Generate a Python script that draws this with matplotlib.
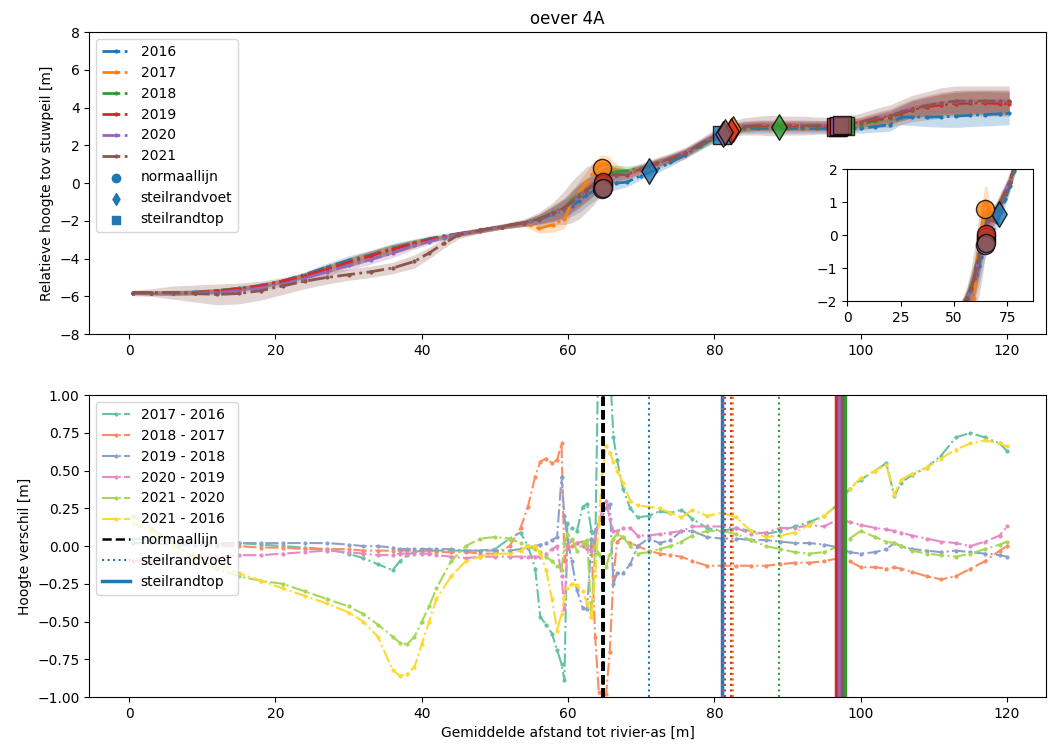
import matplotlib.pyplot as plt
import numpy as np

jaren = ['2016', '2017', '2018', '2019', '2020', '2021']
kleuren = ['C0', 'C1', 'C2', 'C3', 'C4', 'C5']

# dwarsprofielen per jaar
afstand = [0.5, 3, 6, 9, 12, 15, 18, 21, 24, 27,
           30, 33, 36, 39, 41, 43, 45, 48, 51, 54,
           56, 58, 59.5, 60.5, 61.5, 62.5, 63.5, 64.5, 65.5, 66.5,
           68, 70, 72, 74, 76, 78, 80, 82, 84, 86,
           88, 90, 92, 94, 96, 98, 100, 102, 104, 105.5,
           107, 109, 111, 113, 115, 117, 119, 120.3]

hoogte_2016 = [-5.82, -5.82, -5.80, -5.78, -5.70, -5.58, -5.42, -5.18, -4.85, -4.45,
               -4.10, -3.80, -3.45, -3.15, -2.95, -2.80, -2.68, -2.50, -2.30, -2.15,
               -1.95, -1.65, -1.40, -1.20, -0.95, -0.65, -0.40, -0.20, -0.05, 0.00,
               0.05, 0.40, 0.70, 1.10, 1.50, 1.95, 2.40, 2.75, 2.90, 2.90,
               2.90, 2.90, 2.90, 2.90, 2.90, 2.90, 2.90, 3.00, 3.10, 3.50,
               3.50, 3.50, 3.52, 3.55, 3.60, 3.63, 3.67, 3.70]
hoogte_2017 = [-5.82, -5.82, -5.82, -5.80, -5.72, -5.60, -5.45, -5.20, -4.90, -4.55,
               -4.20, -3.85, -3.50, -3.20, -3.00, -2.85, -2.70, -2.52, -2.32, -2.15,
               -2.40, -2.20, -1.90, -1.00, -0.50, 0.00, 0.60, 1.00, 1.00, 0.70,
               0.50, 0.75, 1.05, 1.30, 1.60, 2.05, 2.50, 2.85, 3.00, 3.05,
               3.05, 3.05, 3.05, 3.05, 3.05, 3.10, 3.25, 3.40, 3.55, 3.75,
               3.95, 4.10, 4.25, 4.30, 4.32, 4.32, 4.30, 4.28]
hoogte_2018 = [-5.82, -5.82, -5.82, -5.80, -5.72, -5.60, -5.45, -5.20, -4.90, -4.55,
               -4.20, -3.85, -3.50, -3.20, -3.00, -2.85, -2.70, -2.50, -2.30, -2.10,
               -1.90, -1.55, -1.30, -0.90, -0.60, -0.35, -0.10, 0.20, 0.50, 0.60,
               0.65, 0.80, 1.05, 1.30, 1.60, 2.00, 2.45, 2.80, 2.95, 3.00,
               3.00, 3.00, 3.00, 3.00, 3.00, 3.05, 3.10, 3.30, 3.45, 3.70,
               3.90, 4.05, 4.15, 4.22, 4.25, 4.28, 4.28, 4.28]
hoogte_2019 = [-5.82, -5.82, -5.82, -5.80, -5.72, -5.60, -5.45, -5.20, -4.90, -4.55,
               -4.20, -3.85, -3.50, -3.20, -3.00, -2.85, -2.70, -2.50, -2.30, -2.10,
               -1.90, -1.60, -1.30, -1.00, -0.70, -0.40, -0.10, 0.20, 0.40, 0.45,
               0.45, 0.75, 1.05, 1.30, 1.60, 2.05, 2.50, 2.85, 3.00, 3.05,
               3.05, 3.05, 3.05, 3.05, 3.05, 3.10, 3.20, 3.35, 3.50, 3.70,
               3.90, 4.05, 4.15, 4.22, 4.25, 4.25, 4.22, 4.20]
hoogte_2020 = [-5.85, -5.85, -5.85, -5.82, -5.80, -5.70, -5.55, -5.35, -5.05, -4.70,
               -4.35, -4.05, -3.70, -3.30, -3.10, -2.90, -2.72, -2.52, -2.32, -2.12,
               -1.92, -1.62, -1.35, -1.05, -0.70, -0.35, -0.05, 0.18, 0.40, 0.45,
               0.50, 0.78, 1.08, 1.35, 1.65, 2.10, 2.55, 2.90, 3.05, 3.10,
               3.10, 3.10, 3.10, 3.08, 3.05, 3.10, 3.25, 3.45, 3.60, 3.80,
               4.00, 4.15, 4.25, 4.32, 4.35, 4.35, 4.35, 4.35]
hoogte_2021 = [-5.82, -5.80, -5.80, -5.85, -5.90, -5.85, -5.70, -5.45, -5.20, -5.00,
               -4.85, -4.70, -4.50, -4.15, -3.70, -3.20, -2.75, -2.50, -2.30, -2.10,
               -1.90, -1.60, -1.30, -1.00, -0.70, -0.35, -0.05, 0.25, 0.45, 0.45,
               0.45, 0.75, 1.05, 1.30, 1.60, 2.05, 2.50, 2.85, 3.00, 3.05,
               3.05, 3.05, 3.05, 3.05, 3.05, 3.10, 3.25, 3.45, 3.55, 3.75,
               3.95, 4.10, 4.25, 4.35, 4.35, 4.35, 4.35, 4.35]

# spreiding (halve bandbreedte) rond het profiel
spreiding_2021 = [0.15, 0.20, 0.35, 0.45, 0.55, 0.55, 0.50, 0.45, 0.40, 0.35,
                  0.30, 0.30, 0.30, 0.35, 0.30, 0.25, 0.20, 0.15, 0.15, 0.20,
                  0.35, 0.60, 0.90, 1.10, 1.20, 1.20, 1.10, 0.90, 0.60, 0.40,
                  0.30, 0.30, 0.30, 0.30, 0.30, 0.30, 0.35, 0.40, 0.45, 0.50,
                  0.55, 0.50, 0.50, 0.45, 0.45, 0.45, 0.45, 0.50, 0.60, 0.65,
                  0.70, 0.75, 0.80, 0.80, 0.80, 0.80, 0.80, 0.80]
spreiding_overig = [0.08, 0.10, 0.12, 0.12, 0.12, 0.12, 0.12, 0.12, 0.15, 0.20,
                    0.25, 0.25, 0.25, 0.20, 0.15, 0.12, 0.12, 0.12, 0.12, 0.15,
                    0.25, 0.40, 0.50, 0.55, 0.60, 0.60, 0.55, 0.50, 0.45, 0.35,
                    0.25, 0.20, 0.20, 0.20, 0.20, 0.20, 0.20, 0.25, 0.25, 0.25,
                    0.25, 0.25, 0.25, 0.25, 0.25, 0.25, 0.25, 0.30, 0.35, 0.40,
                    0.45, 0.50, 0.55, 0.60, 0.60, 0.60, 0.60, 0.60]

# kenmerkende punten per jaar
normaal_x = [64.8, 64.6, 64.8, 64.8, 64.7, 64.8]
normaal_y = [-0.15, 0.80, -0.05, 0.05, -0.30, -0.25]
voet_x = [71.1, 82.6, 88.9, 82.3, 81.2, 81.5]
voet_y = [0.65, 2.85, 3.00, 2.75, 2.60, 2.70]
top_x = [81.0, 96.9, 97.8, 96.6, 97.1, 97.4]
top_y = [2.55, 3.00, 3.05, 2.95, 3.05, 3.10]

# hoogteverschillen tussen jaren
verschil_afstand = [0.5, 3, 6, 9, 12, 15, 18, 21, 24, 27,
                    30, 32, 34, 36, 37, 38, 39, 40, 41, 42,
                    44, 46, 48, 50, 52, 53.5, 54.5, 55.5, 56.2, 57,
                    57.8, 58.5, 59.1, 59.5, 59.9, 60.5, 61.2, 62, 62.6, 63.2,
                    63.7, 64.2, 64.7, 65.2, 65.7, 66.2, 66.7, 67.5, 68.5, 69.5,
                    71, 72.5, 74, 75.5, 77, 79, 81, 83, 85, 87,
                    89, 91, 93, 95, 97, 98.5, 100, 102, 103.5, 104.6,
                    105.5, 107, 109, 111, 113, 115, 117, 119, 120]

verschil_2017_2016 = [0.05, 0.04, 0.03, 0.03, 0.02, 0.02, 0.01, 0.00, -0.01, -0.02,
                      -0.05, -0.08, -0.12, -0.16, -0.10, -0.06, -0.04, -0.03, -0.03, -0.03,
                      -0.03, -0.03, -0.03, -0.02, 0.05, 0.09, 0.00, -0.15, -0.47, -0.52,
                      -0.58, -0.69, -0.78, -0.89, 0.15, 0.12, 0.10, 0.26, 0.28, 0.10,
                      -0.05, 1.50, 1.60, 1.50, 1.20, 0.72, 0.57, 0.38, 0.25, 0.19,
                      0.20, 0.23, 0.22, 0.24, 0.18, 0.12, 0.10, 0.12, 0.10, 0.08,
                      0.10, 0.13, 0.16, 0.20, 0.28, 0.38, 0.44, 0.50, 0.55, 0.33,
                      0.42, 0.47, 0.52, 0.60, 0.72, 0.75, 0.72, 0.68, 0.63]
verschil_2018_2017 = [0.02, 0.02, 0.01, 0.01, 0.00, 0.00, -0.01, -0.01, -0.02, -0.02,
                      -0.02, -0.03, -0.03, -0.03, -0.03, -0.03, -0.03, -0.03, -0.03, -0.04,
                      -0.04, -0.04, -0.05, -0.05, 0.00, 0.12, 0.26, 0.46, 0.56, 0.58,
                      0.55, 0.57, 0.68, -0.10, -0.02, 0.00, 0.02, 0.03, 0.01, 0.00,
                      -0.60, -0.97, -1.00, -0.98, -0.70, -0.20, 0.03, 0.06, 0.02, 0.00,
                      -0.03, -0.05, -0.06, -0.07, -0.10, -0.13, -0.13, -0.13, -0.13, -0.13,
                      -0.12, -0.11, -0.11, -0.10, -0.08, -0.10, -0.14, -0.14, -0.15, -0.14,
                      -0.15, -0.17, -0.20, -0.22, -0.20, -0.15, -0.10, -0.03, 0.00]
verschil_2019_2018 = [0.02, 0.02, 0.01, 0.01, 0.01, 0.02, 0.02, 0.02, 0.02, 0.02,
                      0.01, 0.00, 0.00, -0.01, -0.02, -0.02, -0.02, -0.02, -0.02, -0.02,
                      -0.02, -0.03, -0.03, -0.03, -0.03, -0.02, -0.01, 0.00, 0.01, 0.02,
                      0.04, 0.06, 0.46, 0.20, 0.05, -0.10, -0.29, -0.41, -0.42, 0.05,
                      0.10, 0.15, 0.20, 0.25, 0.28, -0.25, -0.18, -0.18, -0.12, 0.00,
                      0.05, 0.02, 0.04, 0.10, 0.10, 0.06, 0.05, 0.05, 0.04, 0.04,
                      0.03, 0.02, 0.02, 0.01, -0.01, -0.04, -0.05, -0.04, -0.02, 0.02,
                      0.00, -0.02, -0.03, -0.04, -0.03, -0.04, -0.05, -0.06, -0.07]
verschil_2020_2019 = [-0.10, -0.09, -0.08, -0.07, -0.07, -0.06, -0.06, -0.05, -0.04, -0.03,
                      -0.04, -0.05, -0.06, -0.06, -0.05, -0.05, -0.05, -0.05, -0.05, -0.06,
                      -0.07, -0.08, -0.07, -0.07, -0.07, -0.07, -0.07, -0.07, -0.07, -0.05,
                      -0.02, 0.00, -0.20, -0.42, 0.00, 0.04, 0.02, 0.00, -0.02, -0.03,
                      0.05, 0.15, 0.25, 0.30, 0.18, 0.10, 0.10, 0.12, 0.12, 0.07,
                      0.07, 0.08, 0.09, 0.10, 0.13, 0.13, 0.13, 0.12, 0.08, 0.09,
                      0.12, 0.12, 0.14, 0.13, 0.18, 0.16, 0.14, 0.12, 0.11, 0.10,
                      0.09, 0.07, 0.05, 0.03, 0.02, 0.00, 0.03, 0.07, 0.13]
verschil_2021_2020 = [0.20, 0.12, 0.02, -0.08, -0.15, -0.20, -0.23, -0.25, -0.30, -0.35,
                      -0.40, -0.45, -0.52, -0.60, -0.64, -0.65, -0.60, -0.50, -0.40, -0.28,
                      -0.10, 0.00, 0.05, 0.06, 0.05, 0.02, 0.00, -0.02, -0.04, -0.07,
                      -0.10, -0.13, -0.16, 0.02, 0.08, 0.05, -0.03, 0.02, 0.04, -0.47,
                      0.00, -0.05, -0.10, -0.14, -0.05, 0.05, 0.08, 0.06, 0.00, -0.05,
                      -0.04, -0.02, 0.00, 0.03, 0.07, 0.10, 0.10, 0.08, 0.04, 0.00,
                      -0.02, -0.04, -0.05, -0.04, 0.00, 0.05, 0.10, 0.06, 0.03, 0.02,
                      0.00, -0.03, -0.05, -0.06, -0.07, -0.05, -0.02, 0.01, 0.03]
verschil_2021_2016 = [0.15, 0.10, 0.00, -0.07, -0.13, -0.18, -0.23, -0.28, -0.33, -0.38,
                      -0.44, -0.50, -0.60, -0.82, -0.86, -0.85, -0.80, -0.65, -0.50, -0.35,
                      -0.20, -0.10, -0.07, -0.05, -0.05, -0.03, 0.00, 0.00, -0.05, -0.16,
                      -0.35, -0.56, -0.45, -0.34, -0.28, -0.25, -0.26, -0.30, -0.38, -0.47,
                      -0.20, 0.15, 0.50, 0.66, 0.62, 0.56, 0.50, 0.42, 0.30, 0.27,
                      0.26, 0.25, 0.22, 0.19, 0.24, 0.20, 0.22, 0.19, 0.10, 0.06,
                      0.07, 0.09, 0.14, 0.20, 0.28, 0.38, 0.45, 0.50, 0.54, 0.34,
                      0.44, 0.48, 0.52, 0.58, 0.64, 0.68, 0.70, 0.68, 0.66]

verschil_labels = ['2017 - 2016', '2018 - 2017', '2019 - 2018',
                   '2020 - 2019', '2021 - 2020', '2021 - 2016']

profielen = [hoogte_2016, hoogte_2017, hoogte_2018, hoogte_2019, hoogte_2020, hoogte_2021]
verschillen = [verschil_2017_2016, verschil_2018_2017, verschil_2019_2018,
               verschil_2020_2019, verschil_2021_2020, verschil_2021_2016]


def teken_profielen(ax, label=True):
    x = np.array(afstand)
    # eerst de banden, zodat alle lijnen erboven liggen
    for jaar, kleur, hoogte in zip(jaren, kleuren, profielen):
        h = np.array(hoogte)
        s = np.array(spreiding_2021 if jaar == '2021' else spreiding_overig)
        ax.fill_between(x, h - s, h + s, color=kleur, alpha=0.25, lw=0)
    for jaar, kleur, hoogte in zip(jaren, kleuren, profielen):
        ax.plot(x, hoogte, '-.', marker='.', color=kleur, lw=2, ms=4,
                label=jaar if label else None)
    for i, kleur in enumerate(kleuren):
        ax.scatter(normaal_x[i], normaal_y[i], s=170, marker='o', c=kleur,
                   edgecolors='k', alpha=0.8, zorder=4)
        ax.scatter(voet_x[i], voet_y[i], s=170, marker='d', c=kleur,
                   edgecolors='k', alpha=0.8, zorder=4)
        ax.scatter(top_x[i], top_y[i], s=170, marker='s', c=kleur,
                   edgecolors='k', alpha=0.8, zorder=4)


fig = plt.figure(figsize=(10.51, 7.49), dpi=100)
ax1 = fig.add_axes([0.085, 0.554, 0.91, 0.403])
ax2 = fig.add_axes([0.085, 0.0694, 0.91, 0.403])

# bovenste figuur: profielen
teken_profielen(ax1)
ax1.scatter([], [], marker='o', c='C0', label='normaallijn')
ax1.scatter([], [], marker='d', c='C0', label='steilrandvoet')
ax1.scatter([], [], marker='s', c='C0', label='steilrandtop')
ax1.set_xlim(-5.45, 125.3)
ax1.set_ylim(-8, 8)
ax1.set_yticks(np.arange(-8, 9, 2))
ax1.set_xticks(np.arange(0, 121, 20))
ax1.set_title('oever 4A')
ax1.set_ylabel('Relatieve hoogte tov stuwpeil [m]')
ax1.legend(loc='upper left')

# inzoom op de normaallijn
axin = fig.add_axes([0.806, 0.598, 0.177, 0.176])
teken_profielen(axin, label=False)
axin.set_xlim(0, 87)
axin.set_ylim(-2, 2)
axin.set_xticks([0, 25, 50, 75])
axin.set_yticks([-2, -1, 0, 1, 2])

# onderste figuur: verschillen
kleuren_verschil = plt.get_cmap('Set2').colors
for i, (lab, verschil) in enumerate(zip(verschil_labels, verschillen)):
    ax2.plot(verschil_afstand, verschil, '-.', marker='.', color=kleuren_verschil[i],
             lw=1.5, ms=4, label=lab)

for i, kleur in enumerate(kleuren):
    ax2.axvline(normaal_x[i], color='k', ls='--', lw=1.8,
                label='normaallijn' if i == 0 else None)
    ax2.axvline(voet_x[i], color=kleur, ls=':', lw=1.5,
                label='steilrandvoet' if i == 0 else None)
    ax2.axvline(top_x[i], color=kleur, ls='-', lw=2.5,
                label='steilrandtop' if i == 0 else None)

ax2.set_xlim(-5.45, 125.3)
ax2.set_ylim(-1, 1)
ax2.set_yticks(np.arange(-1, 1.01, 0.25))
ax2.set_xticks(np.arange(0, 121, 20))
ax2.set_ylabel('Hoogte verschil [m]')
ax2.set_xlabel('Gemiddelde afstand tot rivier-as [m]')
ax2.legend(loc='upper left')

fig.savefig('out.png', dpi=100)
